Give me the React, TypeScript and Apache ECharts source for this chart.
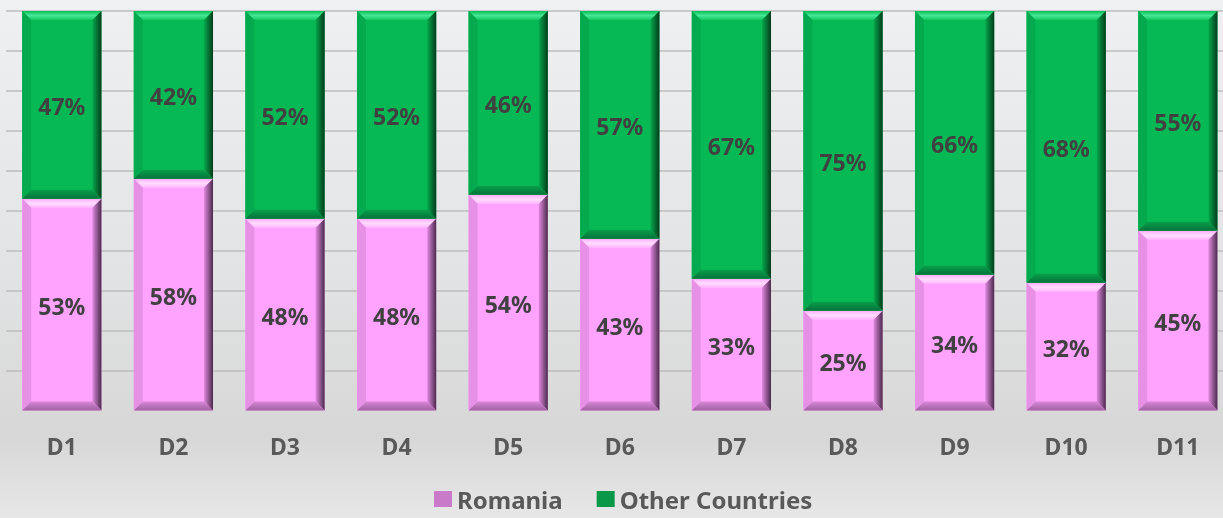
import React, { useEffect, useRef } from "react";
import * as echarts from "echarts";

const categories = ["D1", "D2", "D3", "D4", "D5", "D6", "D7", "D8", "D9", "D10", "D11"];
const romania = [53, 58, 48, 48, 54, 43, 33, 25, 34, 32, 45];
const otherCountries = [47, 42, 52, 52, 46, 57, 67, 75, 66, 68, 55];
const seriesNames = ["Romania", "Other Countries"];

const FONT = '"Noto Sans", "Open Sans", sans-serif';

type Palette = {
  main: string;
  top: string[];
  left: string;
  right: string[];
  bottom: string[];
  legend: string;
};

const pink: Palette = {
  main: "#ffa3ff",
  top: ["#ffacff", "#ffdcff", "#ffb8ff"],
  left: "#e690e6",
  right: ["#e088e0", "#4a2a4a"],
  bottom: ["#d888d8", "#a060a0"],
  legend: "#c97ac9",
};
const green: Palette = {
  main: "#07b955",
  top: ["#0abd58", "#44e894", "#14c664"],
  left: "#06aa4e",
  right: ["#06a84c", "#023d1b"],
  bottom: ["#07a04a", "#05733a"],
  legend: "#089848",
};

function makeRender(pal: Palette) {
  return (params: any, api: any) => {
    const i = api.value(0);
    const y0 = api.value(1);
    const y1 = api.value(2);
    const v = api.value(3);
    const p0 = api.coord([i, y0]);
    const p1 = api.coord([i, y1]);
    const w = api.size([1, 0])[0] * 0.71;
    const x = p0[0] - w / 2;
    const top = p1[1];
    const bottom = p0[1];
    const b = 9;
    const LG = echarts.graphic.LinearGradient;
    return {
      type: "group",
      children: [
        { type: "rect", shape: { x, y: top, width: w, height: bottom - top }, style: { fill: pal.main } },
        {
          type: "polygon",
          shape: { points: [[x, top], [x + w, top], [x + w - b, top + b], [x + b, top + b]] },
          style: {
            fill: new LG(0, 0, 0, 1, [
              { offset: 0, color: pal.top[0] },
              { offset: 0.5, color: pal.top[1] },
              { offset: 1, color: pal.top[2] },
            ]),
          },
        },
        {
          type: "polygon",
          shape: { points: [[x, top], [x + b, top + b], [x + b, bottom - b], [x, bottom]] },
          style: { fill: pal.left },
        },
        {
          type: "polygon",
          shape: { points: [[x + w, top], [x + w - b, top + b], [x + w - b, bottom - b], [x + w, bottom]] },
          style: {
            fill: new LG(0, 0, 1, 0, [
              { offset: 0, color: pal.right[0] },
              { offset: 1, color: pal.right[1] },
            ]),
          },
        },
        {
          type: "polygon",
          shape: { points: [[x, bottom], [x + w, bottom], [x + w - b, bottom - b], [x + b, bottom - b]] },
          style: {
            fill: new LG(0, 0, 0, 1, [
              { offset: 0, color: pal.bottom[0] },
              { offset: 1, color: pal.bottom[1] },
            ]),
          },
        },
        {
          type: "text",
          style: {
            text: v + "%",
            x: p0[0],
            y: (top + bottom) / 2 + 1,
            textAlign: "center",
            textVerticalAlign: "middle",
            fill: "#404040",
            font: "bold 23px " + FONT,
          },
        },
      ],
    };
  };
}

export default function App() {
  const ref = useRef<HTMLDivElement>(null);
  useEffect(() => {
    if (!ref.current) return;
    const chart = echarts.init(ref.current, null, { renderer: "svg" });
    const romaniaData = categories.map((_, i) => [i, 0, romania[i], romania[i]]);
    const otherData = categories.map((_, i) => [i, romania[i], romania[i] + otherCountries[i], otherCountries[i]]);
    chart.setOption({
      animation: false,
      graphic: [
        {
          type: "rect",
          z: -100,
          left: 0,
          top: 0,
          shape: { x: 0, y: 0, width: 1240, height: 518 },
          style: {
            fill: new echarts.graphic.LinearGradient(0, 0, 0, 1, [
              { offset: 0, color: "#eef0f2" },
              { offset: 0.5, color: "#e3e4e5" },
              { offset: 0.84, color: "#d7d7d7" },
              { offset: 1, color: "#e7e7e7" },
            ]),
          },
          silent: true,
        },
      ],
      grid: { left: 6, top: 11, width: 1227.6, height: 399.5, containLabel: false },
      legend: {
        left: 429,
        top: 486,
        padding: [0, 5],
        icon: "rect",
        itemWidth: 18,
        itemHeight: 16,
        itemGap: 34,
        textStyle: { color: "#595959", fontWeight: "bold", fontSize: 24, lineHeight: 26, fontFamily: FONT },
        data: [
          { name: seriesNames[0], itemStyle: { color: pink.legend } },
          { name: seriesNames[1], itemStyle: { color: green.legend } },
        ],
      },
      xAxis: {
        type: "category",
        data: categories,
        axisLine: { show: false },
        axisTick: { show: false },
        axisLabel: { color: "#595959", fontWeight: "bold", fontSize: 23, fontFamily: FONT, margin: 24 },
      },
      yAxis: {
        type: "value",
        min: 0,
        max: 100,
        interval: 10,
        axisLabel: { show: false },
        axisLine: { show: false },
        axisTick: { show: false },
        splitLine: { show: true, showMinLine: false, lineStyle: { color: "#bdbdbd", width: 1.5 } },
      },
      series: [
        {
          type: "custom",
          name: seriesNames[0],
          data: romaniaData,
          encode: { x: 0, y: [1, 2] },
          itemStyle: { color: pink.legend },
          renderItem: makeRender(pink),
        },
        {
          type: "custom",
          name: seriesNames[1],
          data: otherData,
          encode: { x: 0, y: [1, 2] },
          itemStyle: { color: green.legend },
          renderItem: makeRender(green),
        },
      ],
    });
    return () => chart.dispose();
  }, []);
  return (
    <div style={{ position: "fixed", left: 0, top: 0, width: 1223, height: 518, overflow: "hidden" }}>
      <div ref={ref} style={{ width: 1240, height: 518 }} />
    </div>
  );
}
